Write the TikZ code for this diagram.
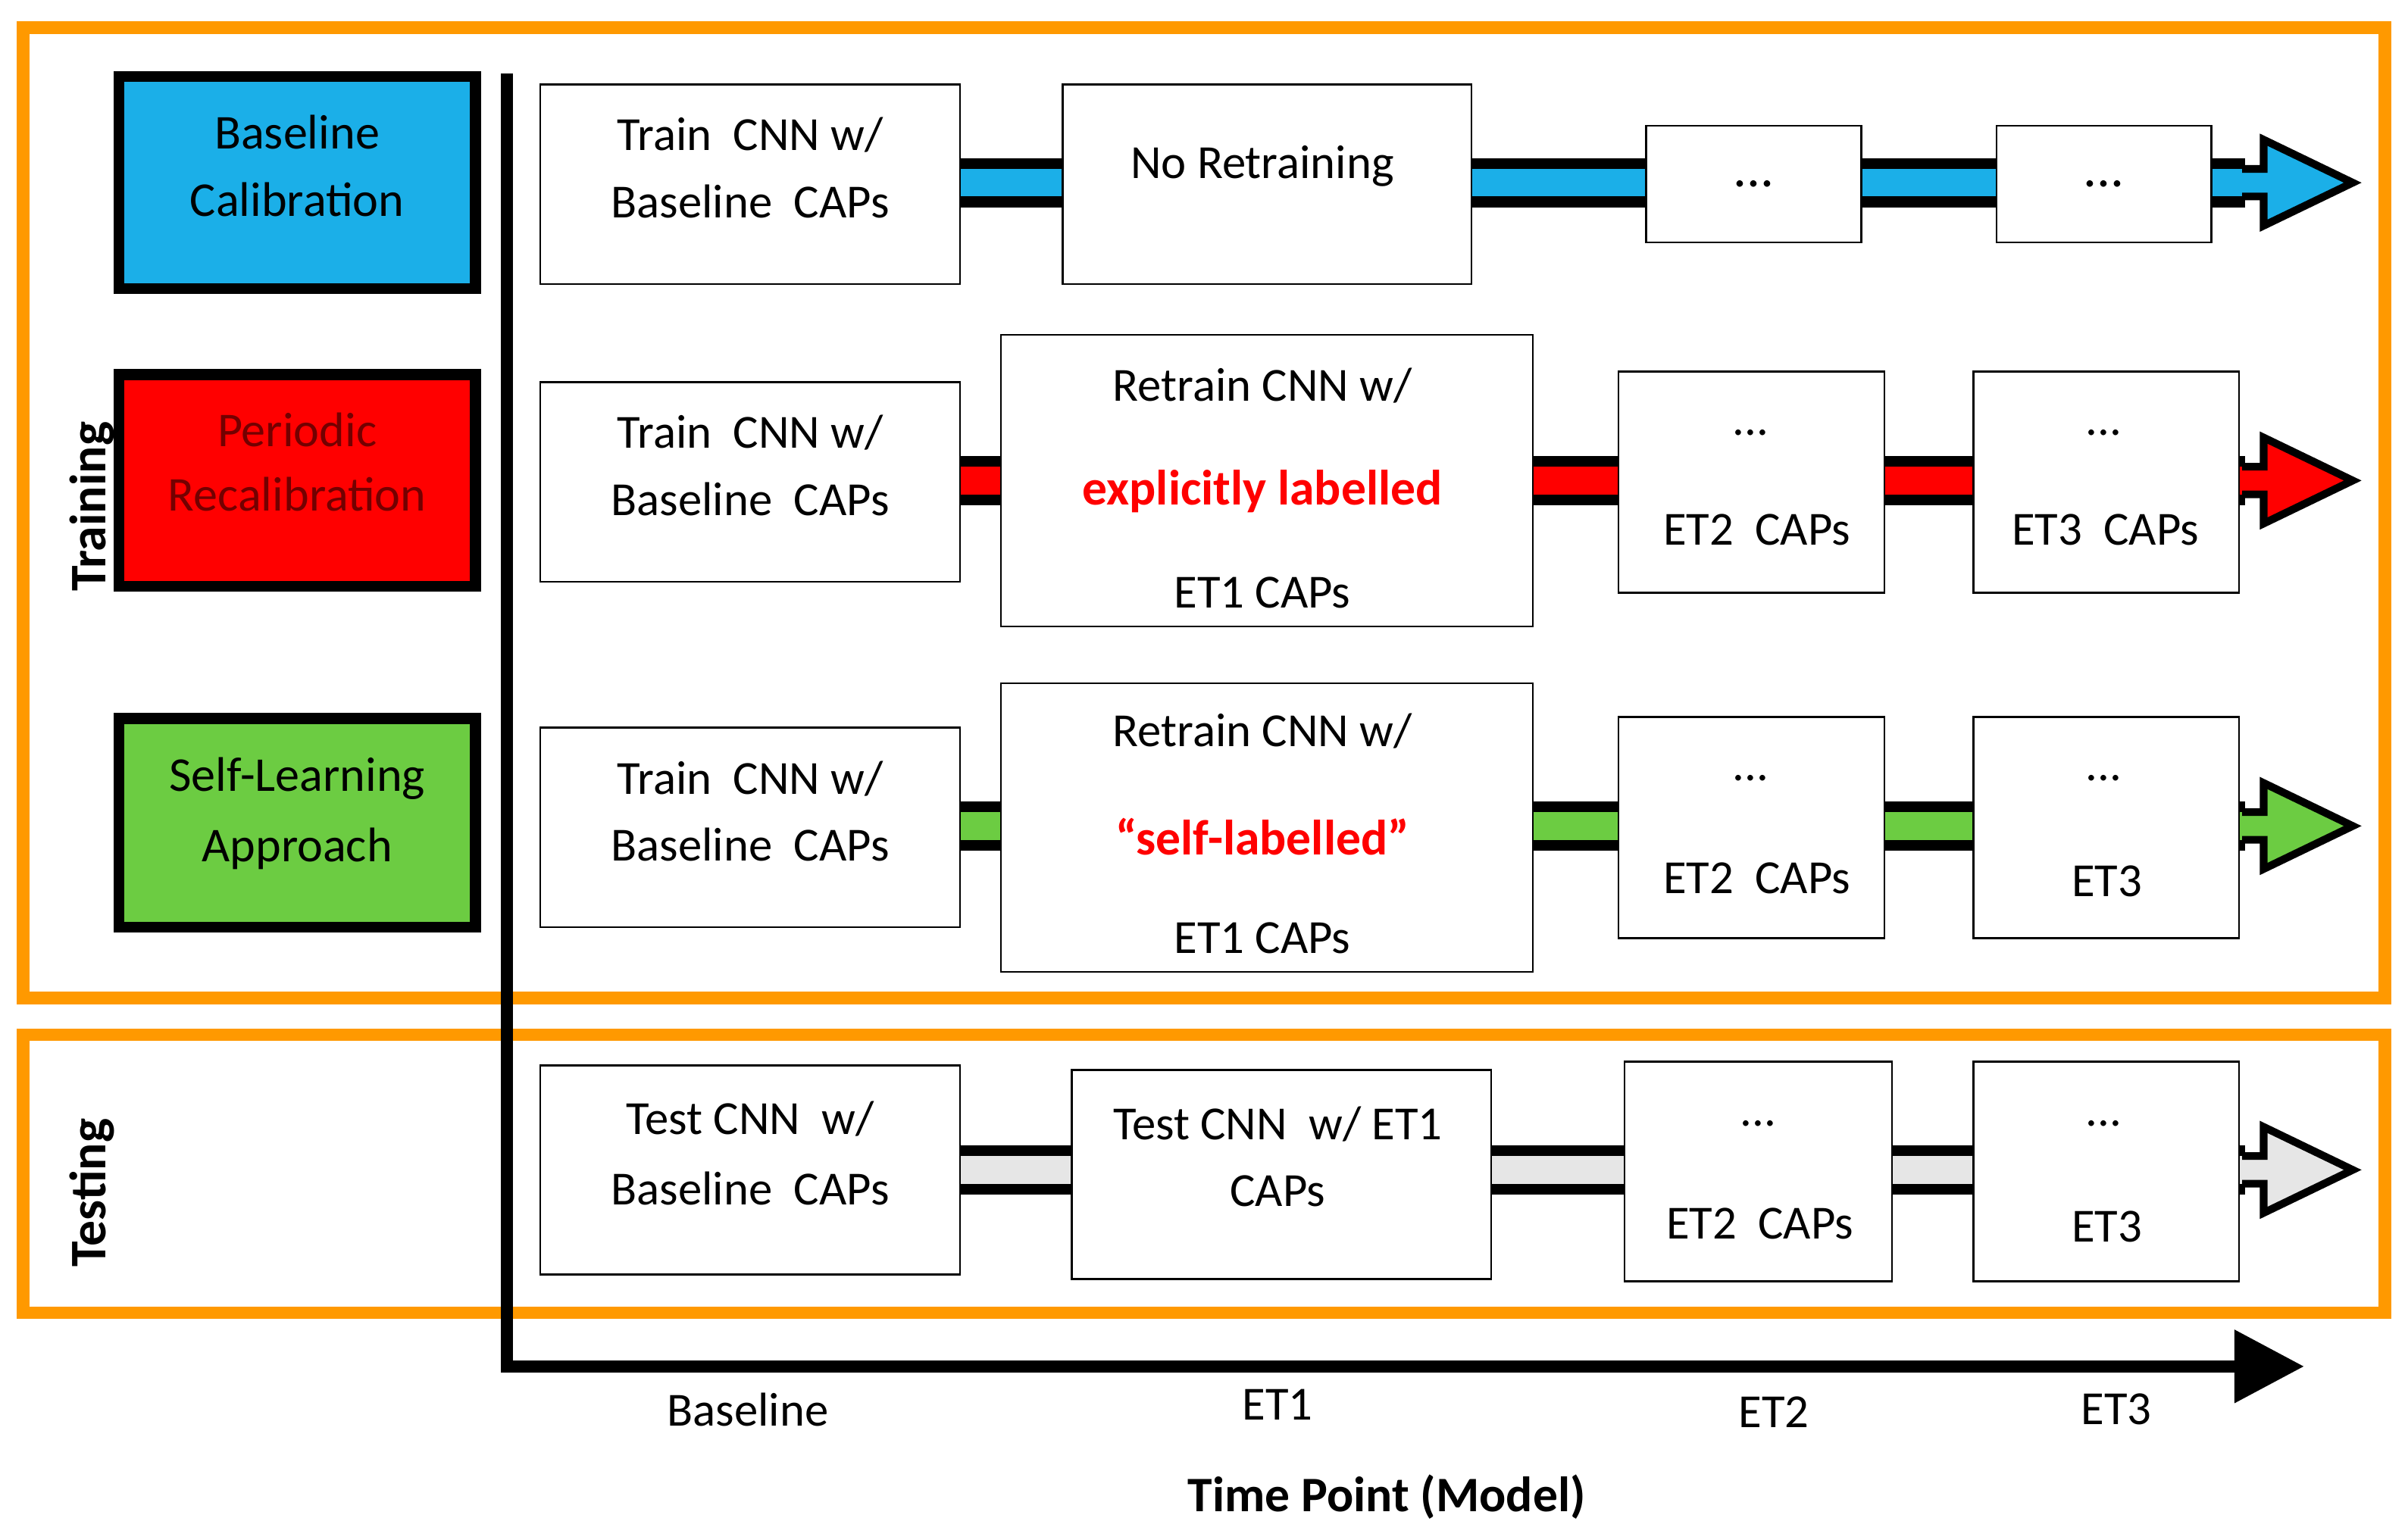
\documentclass[tikz,border=0pt]{standalone}
\usepackage{fontspec}
\setmainfont{Carlito}
\begin{document}
\definecolor{cyanb}{RGB}{27,175,232}
\definecolor{redb}{RGB}{255,0,0}
\definecolor{greenb}{RGB}{108,204,66}
\definecolor{grayb}{RGB}{230,230,230}
\definecolor{orng}{RGB}{255,153,0}
\begin{tikzpicture}[x=0.01cm,y=-0.01cm,
  box/.style={draw=black,line width=0.012cm,fill=white},
  lab/.style={draw=black,line width=0.07cm},
  lt/.style={font=\fontsize{9}{12}\selectfont,inner sep=0},
  t/.style={font=\fontsize{8.8}{13}\selectfont,align=center,inner sep=0},
  frame/.style={draw=orng,line width=0.08cm}]
\useasboundingbox (0,0) rectangle (1568,1003);
\draw[frame] (15,18) rectangle (1553,650);
\draw[frame] (15,674) rectangle (1553,855);
% bands
\newcommand{\band}[2]{%
  \fill[black] (625,#1-16) rectangle (1462,#1+16);
  \fill[#2] (625,#1-9) rectangle (1462,#1+9);
  \draw[black,line width=0.05cm,fill=#2] (1460,#1-9) -- (1474,#1-9) -- (1474,#1-28) -- (1532,#1) -- (1474,#1+28) -- (1474,#1+9) -- (1460,#1+9);}
\band{119}{cyanb}
\band{313}{redb}
\band{538}{greenb}
\band{762}{grayb}
% left labels
\node[lab,fill=cyanb,minimum width=2.32cm,minimum height=1.38cm] (bc) at (193.5,119) {};
\node[lt] at (193.5,86) {Baseline}; \node[lt] at (193.5,130) {Calibration};
\node[lab,fill=redb,minimum width=2.32cm,minimum height=1.38cm] (pr) at (193.5,313) {};
\node[lt,text=redb!45!black] at (193.5,280) {Periodic}; \node[lt,text=redb!45!black] at (193.5,322) {Recalibration};
\node[lab,fill=greenb,minimum width=2.32cm,minimum height=1.36cm] (sl) at (193.5,536) {};
\node[lt] at (193.5,507) {Self-Learning}; \node[lt] at (193.5,553) {Approach};
\node[rotate=90,font=\bfseries\fontsize{9.5}{12}\selectfont] (tr) at (60,330) {Training};
\node[rotate=90,font=\bfseries\fontsize{9.5}{12}\selectfont] (te) at (60,777) {Testing};
% row 1
\node[box,minimum width=2.73cm,minimum height=1.30cm] (r1a) at (488.5,120) {};
\node[t] at (488.5,88) {Train\ \ CNN w/}; \node[t] at (488.5,131) {Baseline\ \ CAPs};
\node[box,minimum width=2.66cm,minimum height=1.30cm] (r1b) at (825,120) {};
\node[t] at (822,108) {No Retraining};
\node[box,minimum width=1.40cm,minimum height=0.76cm] (r1c) at (1142,120) {...};
\node[box,minimum width=1.40cm,minimum height=0.76cm] (r1d) at (1370,120) {...};
% row 2
\node[box,minimum width=2.73cm,minimum height=1.30cm] (r2a) at (488.5,314) {};
\node[t] at (488.5,282) {Train\ \ CNN w/}; \node[t] at (488.5,325) {Baseline\ \ CAPs};
\node[box,minimum width=3.46cm,minimum height=1.90cm] (r2b) at (825,313) {};
\node[t] at (822,251) {Retrain CNN w/};
\node[t,text=redb,font=\bfseries\fontsize{9.2}{13}\selectfont] at (822,320) {explicitly labelled};
\node[t] at (822,386) {ET1 CAPs};
\node[box,minimum width=1.73cm,minimum height=1.44cm] (r2c) at (1140.5,314) {};
\node[t] at (1140,282) {...}; \node[t] at (1144,345) {ET2\ \ CAPs};
\node[box,minimum width=1.73cm,minimum height=1.44cm] (r2d) at (1371.5,314) {};
\node[t] at (1370,282) {...}; \node[t] at (1371,345) {ET3\ \ CAPs};
% row 3
\node[box,minimum width=2.73cm,minimum height=1.30cm] (r3a) at (488.5,539) {};
\node[t] at (488.5,507) {Train\ \ CNN w/}; \node[t] at (488.5,550) {Baseline\ \ CAPs};
\node[box,minimum width=3.46cm,minimum height=1.88cm] (r3b) at (825,539) {};
\node[t] at (822,476) {Retrain CNN w/};
\node[t,text=redb,font=\bfseries\fontsize{9.2}{13}\selectfont] at (822,545) {“self-labelled”};
\node[t] at (822,611) {ET1 CAPs};
\node[box,minimum width=1.73cm,minimum height=1.44cm] (r3c) at (1140.5,539) {};
\node[t] at (1140,507) {...}; \node[t] at (1144,572) {ET2\ \ CAPs};
\node[box,minimum width=1.73cm,minimum height=1.44cm] (r3d) at (1371.5,539) {};
\node[t] at (1370,507) {...}; \node[t] at (1372,574) {ET3};
% testing
\node[box,minimum width=2.73cm,minimum height=1.36cm] (tea) at (488.5,762) {};
\node[t] at (488.5,729) {Test CNN\ \ w/}; \node[t] at (488.5,774) {Baseline\ \ CAPs};
\node[box,minimum width=2.73cm,minimum height=1.36cm] (teb) at (834.5,765) {};
\node[t] at (832,732) {Test CNN\ \ w/\ ET1}; \node[t] at (832,776) {CAPs};
\node[box,minimum width=1.74cm,minimum height=1.43cm] (tec) at (1145,763) {};
\node[t] at (1145,732) {...}; \node[t] at (1146,797) {ET2\ \ CAPs};
\node[box,minimum width=1.73cm,minimum height=1.43cm] (ted) at (1371.5,763) {};
\node[t] at (1370,732) {...}; \node[t] at (1372,799) {ET3};
% axes
\coordinate (ytop) at (330,48);
\coordinate (orig) at (330,890);
\coordinate (xend) at (1462,890);
\draw[line width=0.08cm] (ytop) -- (orig) -- (xend);
\fill (1455,866) -- (1500,890) -- (1455,914) -- cycle;
\node[t] (l0) at (487,918) {Baseline};
\node[t] (l1) at (832,915) {ET1};
\node[t] (l2) at (1155,920) {ET2};
\node[t] (l3) at (1378,918) {ET3};
\node[t,font=\bfseries\fontsize{9.2}{13}\selectfont] (tp) at (903,975) {Time Point (Model)};
\end{tikzpicture}
\end{document}
